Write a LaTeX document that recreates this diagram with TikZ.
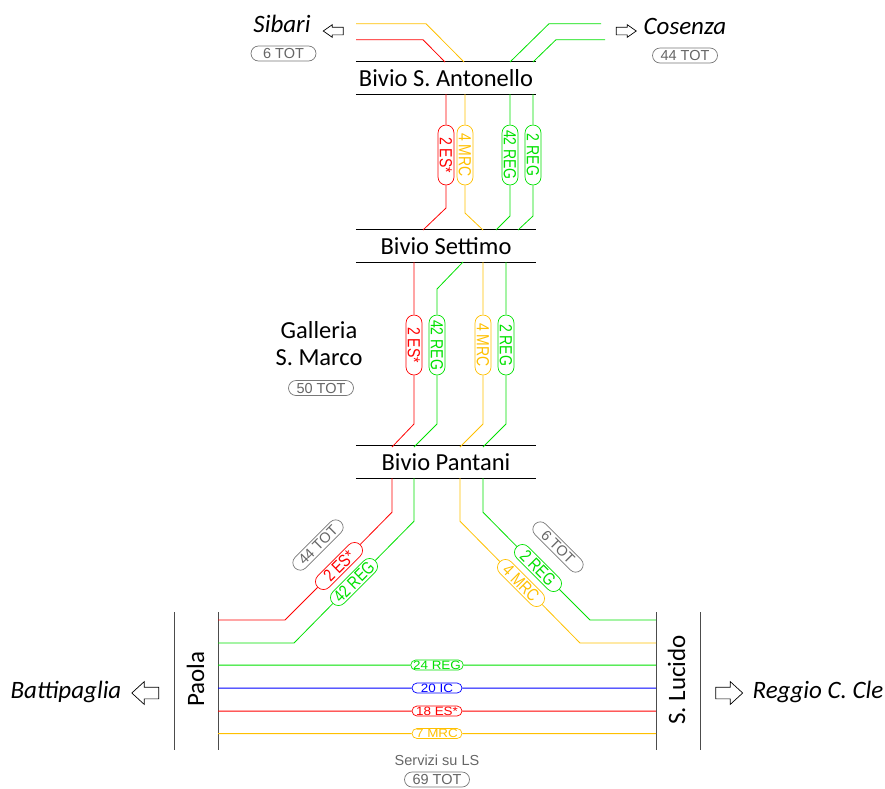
\documentclass[tikz,border=0pt]{standalone}
\usepackage{fontspec}
\setmainfont{Carlito}
\newfontfamily\pillfont{Liberation Sans}
\newfontfamily\narrowfont[FakeStretch=0.8]{Liberation Sans}
\newfontfamily\widefont[FakeStretch=1.12]{Liberation Sans}
\usetikzlibrary{shapes.misc,shapes.arrows}

\definecolor{esred}{RGB}{255,0,0}
\definecolor{reggreen}{RGB}{0,225,0}
\definecolor{mrcorange}{RGB}{255,192,0}
\definecolor{icblue}{RGB}{0,0,255}
\definecolor{totgray}{RGB}{120,120,120}

\begin{document}
\begin{tikzpicture}[x=1pt,y=-1pt]
        \tikzstyle{every node}=[inner sep=0pt]
        \tikzstyle{station}=[minimum width=180pt,minimum height=32pt,font=\fontsize{24.5}{27}\selectfont]
        \tikzstyle{town}=[font=\fontsize{25}{27}\selectfont\itshape,anchor=base]
        \tikzstyle{bar}=[line width=0.9pt]
        \tikzstyle{trk}=[line width=0.8pt]
        \tikzstyle{lstrk}=[line width=1pt]
        \tikzstyle{pill}=[rounded rectangle,draw,fill=white,line width=0.7pt,font=\narrowfont\fontsize{17.5}{17.5}\selectfont]
        \tikzstyle{vpill}=[pill,rotate=-90,minimum width=60pt,minimum height=16pt]
        \tikzstyle{dpill}=[pill,minimum width=60pt,minimum height=16pt]
        \tikzstyle{tot}=[pill,draw=totgray,text=totgray!85!black,minimum width=65pt,minimum height=15pt,font=\pillfont\fontsize{14.5}{14.5}\selectfont]
        \tikzstyle{lspill}=[pill,minimum width=50pt,minimum height=10pt,font=\widefont\fontsize{12}{12}\selectfont]
        \tikzstyle{smallarrow}=[single arrow,draw,fill=white,line width=0.7pt,minimum height=20pt,inner ysep=3.5pt,inner xsep=0pt,single arrow head extend=2.5pt,single arrow tip angle=70]
        \tikzstyle{bigarrow}=[single arrow,draw,fill=white,line width=0.7pt,minimum height=27pt,inner ysep=5.5pt,inner xsep=0pt,single arrow head extend=5.5pt,single arrow tip angle=85]

        \useasboundingbox (0,0) rectangle (885,788);

        % stations
        \node[station] (antonello) at (446,78) {Bivio S. Antonello};
        \node[station] (settimo) at (446,246) {Bivio Settimo};
        \node[station] (pantani) at (446,462) {Bivio Pantani};
        \draw[bar] (antonello.north west) -- (antonello.north east) (antonello.south west) -- (antonello.south east);
        \draw[bar] (settimo.north west) -- (settimo.north east) (settimo.south west) -- (settimo.south east);
        \draw[bar] (pantani.north west) -- (pantani.north east) (pantani.south west) -- (pantani.south east);

        % Sibari and Cosenza
        \node[town] (sibari) at (282,32) {Sibari};
        \node[smallarrow,shape border rotate=180] (sibariarrow) at (336,31) {};
        \node[tot] (sibaritot) at (283.5,53.5) {6 TOT};
        \node[town] (cosenza) at (685,34) {Cosenza};
        \node[smallarrow] (cosenzaarrow) at (623.5,31) {};
        \node[tot] (cosenzatot) at (685,55.5) {44 TOT};

        \coordinate (sibari-mrc) at (356,23.7);
        \coordinate (sibari-es) at (356,39.7);
        \coordinate (cosenza-rega) at (601,23.7);
        \coordinate (cosenza-regb) at (605,39.7);
        \coordinate (ant-n-es) at (445,62);
        \coordinate (ant-n-mrc) at (464,62);
        \coordinate (ant-n-rega) at (510,62);
        \coordinate (ant-n-regb) at (533,62);
        \draw[trk,mrcorange] (sibari-mrc) -- ++(70,0) -- (ant-n-mrc);
        \draw[trk,esred] (sibari-es) -- ++(67,0) -- (ant-n-es);
        \draw[trk,reggreen] (cosenza-rega) -- ++(-52,0) -- (ant-n-rega);
        \draw[trk,reggreen] (cosenza-regb) -- ++(-49,0) -- (ant-n-regb);

        % S. Antonello - Settimo
        \node[esred,vpill] (ant-es) at (446,155) {2 ES*};
        \node[mrcorange,vpill] (ant-mrc) at (465,155) {4 MRC};
        \node[reggreen,vpill] (ant-rega) at (510,155) {42 REG};
        \node[reggreen,vpill] (ant-regb) at (533,155) {2 REG};
        \coordinate (set-n-es) at (423,230);
        \coordinate (set-n-mrc) at (483,230);
        \coordinate (set-n-rega) at (496,230);
        \coordinate (set-n-regb) at (518,230);
        \draw[trk,esred] (antonello.south -| ant-es) -- (ant-es) -- ++(0,53) -- (set-n-es);
        \draw[trk,mrcorange] (antonello.south -| ant-mrc) -- (ant-mrc) -- ++(0,58) -- (set-n-mrc);
        \draw[trk,reggreen] (antonello.south -| ant-rega) -- (ant-rega) -- ++(0,61) -- (set-n-rega);
        \draw[trk,reggreen] (antonello.south -| ant-regb) -- (ant-regb) -- ++(0,61) -- (set-n-regb);

        % Galleria S. Marco
        \node[align=center,font=\fontsize{24.5}{27}\selectfont] (galleria) at (319,344) {Galleria\\S. Marco};
        \node[tot] (galleriatot) at (321,388) {50 TOT};
        \node[esred,vpill] (gal-es) at (414,345) {2 ES*};
        \node[reggreen,vpill] (gal-rega) at (437,345) {42 REG};
        \node[mrcorange,vpill] (gal-mrc) at (483,345) {4 MRC};
        \node[reggreen,vpill] (gal-regb) at (506,345) {2 REG};
        \coordinate (set-s-rega) at (463,262);
        \coordinate (pan-es) at (392,447);
        \coordinate (pan-rega) at (414,447);
        \coordinate (pan-mrc) at (460,447);
        \coordinate (pan-regb) at (483,447);
        \draw[trk,esred] (settimo.south -| gal-es) -- (gal-es) -- ++(0,79) -- (pan-es);
        \draw[trk,reggreen] (set-s-rega) -- ++(-26,27) -- (gal-rega) -- ++(0,79) -- (pan-rega);
        \draw[trk,mrcorange] (settimo.south -| gal-mrc) -- (gal-mrc) -- ++(0,79) -- (pan-mrc);
        \draw[trk,reggreen] (settimo.south -| gal-regb) -- (gal-regb) -- ++(0,79) -- (pan-regb);

        % Paola and S. Lucido
        \node[font=\fontsize{25}{27}\selectfont,rotate=90,anchor=base] (paola) at (204,679) {Paola};
        \node[font=\fontsize{25}{27}\selectfont,rotate=90,anchor=base] (lucido) at (685,680) {S. Lucido};
        \coordinate (paolabar) at (218,612);
        \coordinate (lucidobar) at (656,612);
        \draw[bar,black!70] (174,612) -- (174,750) (paolabar) -- ++(0,138);
        \draw[bar,black!70] (lucidobar) -- ++(0,138) (700,612) -- (700,750);
        \node[town] (battipaglia) at (66,698) {Battipaglia};
        \node[bigarrow,shape border rotate=180] (battiarrow) at (148.5,693) {};
        \node[town] (reggio) at (818,698) {Reggio C. Cle};
        \node[bigarrow] (reggioarrow) at (726,693) {};

        % Pantani - Paola / S. Lucido
        \node[tot,rotate=45] (paolatot) at (318,545) {44 TOT};
        \node[esred,dpill,rotate=45] (pao-es) at (339,566) {2 ES*};
        \node[reggreen,dpill,rotate=45] (pao-reg) at (354,582) {42 REG};
        \node[tot,rotate=-45] (lucidotot) at (558,547) {6 TOT};
        \node[reggreen,dpill,rotate=-45] (luc-reg) at (538,568) {2 REG};
        \node[mrcorange,dpill,rotate=-45] (luc-mrc) at (521,583) {4 MRC};
        \coordinate (paola-es) at (218,620);
        \coordinate (paola-reg) at (218,643);
        \coordinate (lucido-reg) at (656,620);
        \coordinate (lucido-mrc) at (656,643);
        \draw[trk,esred] (pantani.south -| pan-es) -- ++(0,34) -- (pao-es) -- ++(-54,54) -- (paola-es);
        \draw[trk,reggreen] (pantani.south -| pan-rega) -- ++(0,43) -- (pao-reg) -- ++(-60,61) -- (paola-reg);
        \draw[trk,mrcorange] (pantani.south -| pan-mrc) -- ++(0,43) -- (luc-mrc) -- ++(59,60) -- (lucido-mrc);
        \draw[trk,reggreen] (pantani.south -| pan-regb) -- ++(0,34) -- (luc-reg) -- ++(52,52) -- (lucido-reg);

        % services on LS
        \node[reggreen,lspill] (ls-reg) at (437,665) {24 REG};
        \node[icblue,lspill] (ls-ic) at (437,688) {20 IC};
        \node[esred,lspill] (ls-es) at (437,711) {18 ES*};
        \node[mrcorange,lspill] (ls-mrc) at (437,733.5) {7 MRC};
        \draw[lstrk,reggreen] (paolabar |- ls-reg) -- (ls-reg) -- (lucidobar |- ls-reg);
        \draw[lstrk,icblue] (paolabar |- ls-ic) -- (ls-ic) -- (lucidobar |- ls-ic);
        \draw[lstrk,esred] (paolabar |- ls-es) -- (ls-es) -- (lucidobar |- ls-es);
        \draw[lstrk,mrcorange] (paolabar |- ls-mrc) -- (ls-mrc) -- (lucidobar |- ls-mrc);
        \node[font=\pillfont\fontsize{14.5}{15}\selectfont,text=totgray!85!black] (lslabel) at (437,760) {Servizi su LS};
        \node[tot] (lstot) at (437,779.5) {69 TOT};

    \end{tikzpicture}
\end{document}
